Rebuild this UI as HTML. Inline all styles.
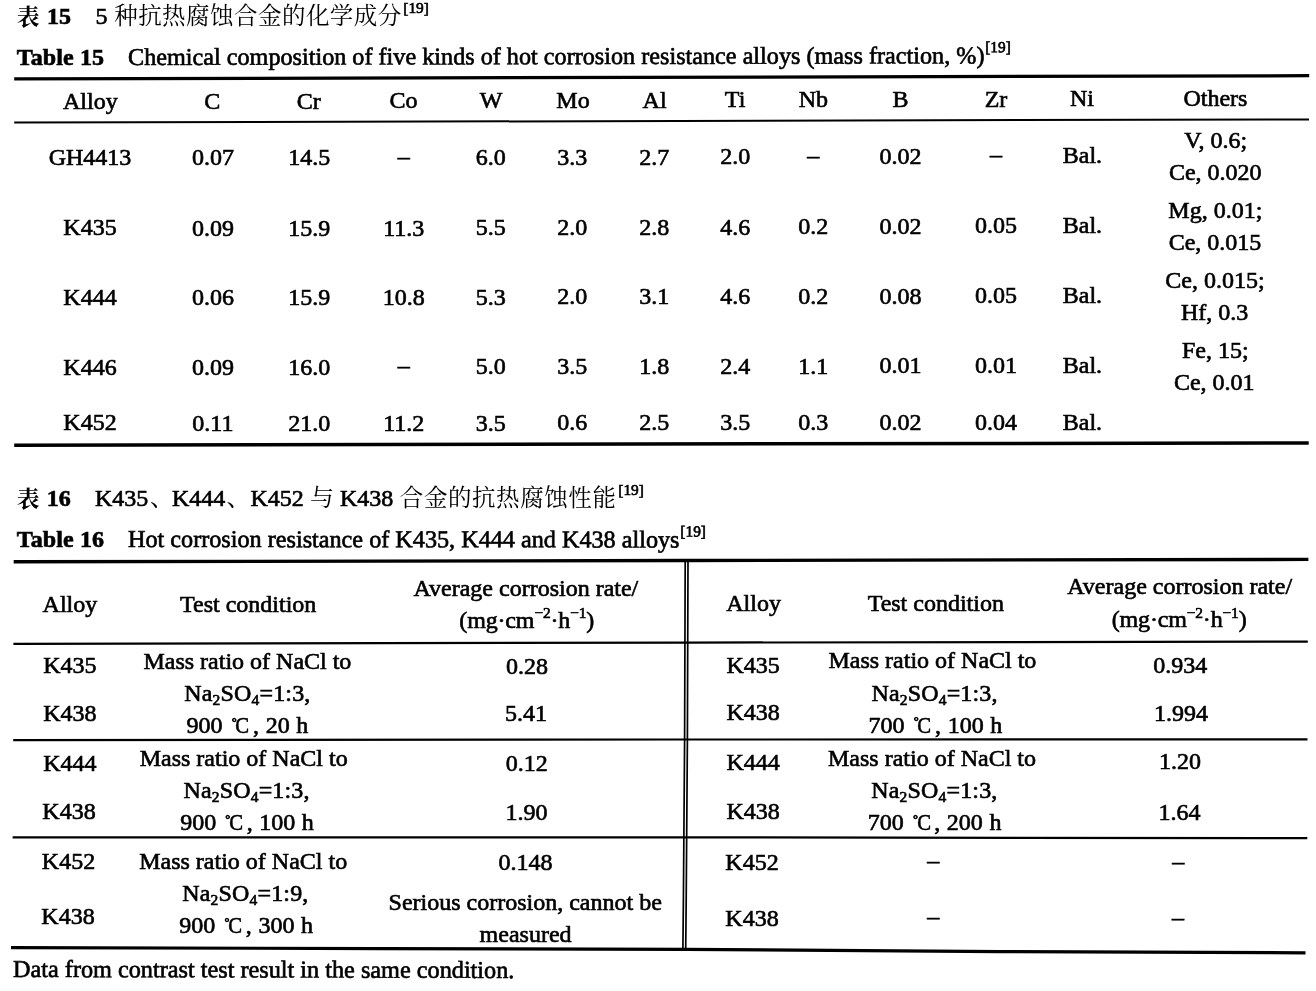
<!DOCTYPE html>
<html><head><meta charset="utf-8"><title>Tables 15-16</title><style>
html,body{margin:0;padding:0;background:#fff;}
body{width:1316px;height:991px;position:relative;overflow:hidden;font-family:"Liberation Serif",serif;color:#000;-webkit-text-stroke:0.65px #000;}
#pg{position:absolute;left:0;top:0;width:1316px;height:991px;will-change:transform;}
.t{position:absolute;white-space:nowrap;font-size:24px;line-height:24px;}
.c{transform:translateX(-50%);}
.b{font-weight:bold;}
.sup{font-size:15.4px;position:relative;top:-11.4px;margin-left:0.8px;}
.sub{font-size:15.5px;position:relative;top:4.2px;}
.deg{font-size:12.5px;position:relative;top:-7.2px;margin-left:2.6px;margin-right:-1.2px;}
.dc{display:inline-block;transform:scaleX(0.86);transform-origin:0 50%;margin-right:1.5px;}
.ws{word-spacing:0.6px;}
.na{letter-spacing:0.16px;}
.u{letter-spacing:-0.15px;}
.u .sup{margin-left:0;top:-9.3px;}
.b{letter-spacing:0.11px;}
svg{position:absolute;left:0;top:0;}
svg text{font-family:"Liberation Serif","Noto Serif CJK SC",serif;fill:#000;-webkit-text-stroke:0;}
</style></head>
<body>
<div id="pg">
<svg width="1316" height="991" viewBox="0 0 1316 991">
<text x="16.80" y="24.85" font-size="22.8" font-weight="bold">表</text>
<text x="114.20 138.16 162.12 186.08 210.04 234.00 257.96 281.92 305.88 329.84 353.80 377.76" y="24.10" font-size="23.5">种抗热腐蚀合金的化学成分</text>
<text x="16.80" y="507.30" font-size="22.8" font-weight="bold">表</text>
<text x="150.00" y="506.30" font-size="24">、</text>
<text x="226.50" y="506.30" font-size="24">、</text>
<text x="310.00" y="506.30" font-size="24">与</text>
<text x="399.80 423.88 447.96 472.04 496.12 520.20 544.28 568.36 592.44" y="506.30" font-size="23.5">合金的抗热腐蚀性能</text>
<polyline points="14.20,78.95 1309.20,75.70" fill="none" stroke="#000" stroke-width="3.3"/>
<polyline points="14.20,122.60 1309.00,119.40" fill="none" stroke="#000" stroke-width="2.0"/>
<polyline points="14.20,445.20 1308.70,442.90" fill="none" stroke="#000" stroke-width="3.5"/>
<polyline points="13.70,561.80 686.00,560.50 1308.40,559.40" fill="none" stroke="#000" stroke-width="3.4"/>
<polyline points="13.40,643.90 686.00,642.60 1307.80,641.60" fill="none" stroke="#000" stroke-width="2.2"/>
<polyline points="13.20,740.20 686.00,739.50 1307.50,739.40" fill="none" stroke="#000" stroke-width="2.2"/>
<polyline points="12.60,837.30 686.00,837.30 1307.30,838.20" fill="none" stroke="#000" stroke-width="2.3"/>
<polyline points="11.00,947.60 380.00,948.60 686.00,949.30 1000.00,951.60 1305.50,952.80" fill="none" stroke="#000" stroke-width="3.2"/>
<polyline points="685.20,560.50 684.60,740.00 683.40,900.00 682.90,949.30" fill="none" stroke="#000" stroke-width="1.7"/>
<polyline points="688.00,560.50 687.40,740.00 686.20,900.00 685.70,949.30" fill="none" stroke="#000" stroke-width="1.7"/>
</svg>
<div class="t b" style="left:46.90px;top:4.00px;">15</div>
<div class="t" style="left:95.50px;top:4.00px;">5</div>
<div class="t" style="left:402.50px;top:4.00px;"><span class="sup">[19]</span></div>
<div class="t b" style="left:16.80px;top:44.50px;">Table 15</div>
<div class="t" style="left:127.80px;top:44.60px;font-size:24.2px;transform-origin:0 20px;transform:rotate(-0.11deg);">Chemical composition of five kinds of hot corrosion resistance alloys (mass fraction, %)<span class="sup">[19]</span></div>
<div class="t b" style="left:46.70px;top:486.20px;">16</div>
<div class="t" style="left:95.00px;top:486.20px;">K435</div>
<div class="t" style="left:172.00px;top:486.20px;">K444</div>
<div class="t" style="left:250.50px;top:486.20px;">K452</div>
<div class="t" style="left:340.00px;top:486.20px;">K438</div>
<div class="t" style="left:617.50px;top:486.20px;"><span class="sup">[19]</span></div>
<div class="t b" style="left:16.80px;top:527.30px;">Table 16</div>
<div class="t" style="left:127.80px;top:527.30px;font-size:24.2px;transform-origin:0 20px;transform:rotate(0.05deg);">Hot corrosion resistance of K435, K444 and K438 alloys<span class="sup">[19]</span></div>
<div class="t c" style="left:90.30px;top:89.30px;">Alloy</div>
<div class="t c" style="left:212.30px;top:88.93px;">C</div>
<div class="t c" style="left:308.80px;top:88.64px;">Cr</div>
<div class="t c" style="left:403.60px;top:88.36px;">Co</div>
<div class="t c" style="left:491.20px;top:88.10px;">W</div>
<div class="t c" style="left:573.00px;top:87.85px;">Mo</div>
<div class="t c" style="left:654.60px;top:87.61px;">Al</div>
<div class="t c" style="left:735.10px;top:87.36px;">Ti</div>
<div class="t c" style="left:813.30px;top:87.13px;">Nb</div>
<div class="t c" style="left:900.40px;top:86.87px;">B</div>
<div class="t c" style="left:996.00px;top:86.58px;">Zr</div>
<div class="t c" style="left:1082.00px;top:86.32px;">Ni</div>
<div class="t c" style="left:1215.40px;top:85.92px;">Others</div>
<div class="t c" style="left:90.00px;top:145.20px;">GH4413</div>
<div class="t c" style="left:212.90px;top:145.30px;">0.07</div>
<div class="t c" style="left:309.20px;top:145.34px;">14.5</div>
<div class="t c" style="left:403.80px;top:143.81px;">–</div>
<div class="t c" style="left:490.70px;top:145.21px;">6.0</div>
<div class="t c" style="left:572.30px;top:145.03px;">3.3</div>
<div class="t c" style="left:654.20px;top:144.79px;">2.7</div>
<div class="t c" style="left:735.20px;top:144.48px;">2.0</div>
<div class="t c" style="left:813.30px;top:142.63px;">–</div>
<div class="t c" style="left:900.60px;top:143.69px;">0.02</div>
<div class="t c" style="left:996.00px;top:141.71px;">–</div>
<div class="t c" style="left:1082.40px;top:143.02px;">Bal.</div>
<div class="t c" style="left:90.00px;top:215.40px;">K435</div>
<div class="t c" style="left:212.90px;top:215.50px;">0.09</div>
<div class="t c" style="left:309.20px;top:215.54px;">15.9</div>
<div class="t c" style="left:403.80px;top:215.51px;">11.3</div>
<div class="t c" style="left:490.70px;top:215.41px;">5.5</div>
<div class="t c" style="left:572.30px;top:215.23px;">2.0</div>
<div class="t c" style="left:654.20px;top:214.99px;">2.8</div>
<div class="t c" style="left:735.20px;top:214.68px;">4.6</div>
<div class="t c" style="left:813.30px;top:214.33px;">0.2</div>
<div class="t c" style="left:900.60px;top:213.89px;">0.02</div>
<div class="t c" style="left:996.00px;top:213.41px;">0.05</div>
<div class="t c" style="left:1082.40px;top:213.22px;">Bal.</div>
<div class="t c" style="left:90.00px;top:284.90px;">K444</div>
<div class="t c" style="left:212.90px;top:284.83px;">0.06</div>
<div class="t c" style="left:309.20px;top:284.76px;">15.9</div>
<div class="t c" style="left:403.80px;top:284.66px;">10.8</div>
<div class="t c" style="left:490.70px;top:284.55px;">5.3</div>
<div class="t c" style="left:572.30px;top:284.43px;">2.0</div>
<div class="t c" style="left:654.20px;top:284.27px;">3.1</div>
<div class="t c" style="left:735.20px;top:284.10px;">4.6</div>
<div class="t c" style="left:813.30px;top:283.92px;">0.2</div>
<div class="t c" style="left:900.60px;top:283.70px;">0.08</div>
<div class="t c" style="left:996.00px;top:283.45px;">0.05</div>
<div class="t c" style="left:1082.40px;top:283.31px;">Bal.</div>
<div class="t c" style="left:90.00px;top:354.60px;">K446</div>
<div class="t c" style="left:212.90px;top:354.57px;">0.09</div>
<div class="t c" style="left:309.20px;top:354.53px;">16.0</div>
<div class="t c" style="left:403.80px;top:352.95px;">–</div>
<div class="t c" style="left:490.70px;top:354.35px;">5.0</div>
<div class="t c" style="left:572.30px;top:354.23px;">3.5</div>
<div class="t c" style="left:654.20px;top:354.07px;">1.8</div>
<div class="t c" style="left:735.20px;top:353.88px;">2.4</div>
<div class="t c" style="left:813.30px;top:353.67px;">1.1</div>
<div class="t c" style="left:900.60px;top:353.43px;">0.01</div>
<div class="t c" style="left:996.00px;top:353.15px;">0.01</div>
<div class="t c" style="left:1082.40px;top:353.01px;">Bal.</div>
<div class="t c" style="left:90.00px;top:410.40px;">K452</div>
<div class="t c" style="left:212.90px;top:410.50px;">0.11</div>
<div class="t c" style="left:309.20px;top:410.55px;">21.0</div>
<div class="t c" style="left:403.80px;top:410.56px;">11.2</div>
<div class="t c" style="left:490.70px;top:410.53px;">3.5</div>
<div class="t c" style="left:572.30px;top:410.46px;">0.6</div>
<div class="t c" style="left:654.20px;top:410.35px;">2.5</div>
<div class="t c" style="left:735.20px;top:410.21px;">3.5</div>
<div class="t c" style="left:813.30px;top:410.04px;">0.3</div>
<div class="t c" style="left:900.60px;top:409.82px;">0.02</div>
<div class="t c" style="left:996.00px;top:409.58px;">0.04</div>
<div class="t c" style="left:1082.40px;top:409.51px;">Bal.</div>
<div class="t c" style="left:1215.70px;top:128.20px;">V, 0.6;</div>
<div class="t c" style="left:1215.30px;top:160.40px;">Ce, 0.020</div>
<div class="t c" style="left:1215.30px;top:198.10px;">Mg, 0.01;</div>
<div class="t c" style="left:1215.00px;top:229.60px;">Ce, 0.015</div>
<div class="t c" style="left:1215.00px;top:268.20px;">Ce, 0.015;</div>
<div class="t c" style="left:1214.60px;top:299.50px;">Hf, 0.3</div>
<div class="t c" style="left:1215.30px;top:338.40px;">Fe, 15;</div>
<div class="t c" style="left:1214.30px;top:369.90px;">Ce, 0.01</div>
<div class="t c" style="left:69.90px;top:591.70px;">Alloy</div>
<div class="t c" style="left:248.20px;top:591.70px;">Test condition</div>
<div class="t c" style="left:525.90px;top:575.70px;">Average corrosion rate/</div>
<div class="t c" style="left:526.70px;top:607.50px;"><span class="u">(mg·cm<span class="sup">−2</span>·h<span class="sup">−1</span>)</span></div>
<div class="t c" style="left:753.60px;top:591.10px;">Alloy</div>
<div class="t c" style="left:935.80px;top:591.10px;">Test condition</div>
<div class="t c" style="left:1179.70px;top:574.40px;">Average corrosion rate/</div>
<div class="t c" style="left:1179.10px;top:606.80px;"><span class="u">(mg·cm<span class="sup">−2</span>·h<span class="sup">−1</span>)</span></div>
<div class="t c" style="left:69.90px;top:653.10px;">K435</div>
<div class="t c" style="left:69.90px;top:701.10px;">K438</div>
<div class="t c" style="left:247.40px;top:648.60px;">Mass ratio of NaCl to</div>
<div class="t c" style="left:247.40px;top:681.00px;"><span class="na">Na<span class="sub">2</span>SO<span class="sub">4</span>=1:3,</span></div>
<div class="t c" style="left:247.40px;top:713.40px;"><span class="ws">900 <span class="deg">°</span><span class="dc">C</span>, 20 h</span></div>
<div class="t c" style="left:526.90px;top:653.90px;">0.28</div>
<div class="t c" style="left:526.00px;top:700.60px;">5.41</div>
<div class="t c" style="left:753.20px;top:652.60px;">K435</div>
<div class="t c" style="left:753.20px;top:700.40px;">K438</div>
<div class="t c" style="left:932.40px;top:648.30px;">Mass ratio of NaCl to</div>
<div class="t c" style="left:934.60px;top:680.90px;"><span class="na">Na<span class="sub">2</span>SO<span class="sub">4</span>=1:3,</span></div>
<div class="t c" style="left:935.40px;top:712.50px;"><span class="ws">700 <span class="deg">°</span><span class="dc">C</span>, 100 h</span></div>
<div class="t c" style="left:1180.20px;top:652.50px;">0.934</div>
<div class="t c" style="left:1181.00px;top:700.60px;">1.994</div>
<div class="t c" style="left:69.90px;top:750.60px;">K444</div>
<div class="t c" style="left:69.00px;top:798.80px;">K438</div>
<div class="t c" style="left:243.70px;top:746.00px;">Mass ratio of NaCl to</div>
<div class="t c" style="left:246.60px;top:777.50px;"><span class="na">Na<span class="sub">2</span>SO<span class="sub">4</span>=1:3,</span></div>
<div class="t c" style="left:247.00px;top:810.20px;"><span class="ws">900 <span class="deg">°</span><span class="dc">C</span>, 100 h</span></div>
<div class="t c" style="left:526.70px;top:750.70px;">0.12</div>
<div class="t c" style="left:526.40px;top:799.50px;">1.90</div>
<div class="t c" style="left:753.20px;top:750.00px;">K444</div>
<div class="t c" style="left:753.20px;top:799.10px;">K438</div>
<div class="t c" style="left:932.00px;top:745.60px;">Mass ratio of NaCl to</div>
<div class="t c" style="left:934.40px;top:777.60px;"><span class="na">Na<span class="sub">2</span>SO<span class="sub">4</span>=1:3,</span></div>
<div class="t c" style="left:934.60px;top:810.20px;"><span class="ws">700 <span class="deg">°</span><span class="dc">C</span>, 200 h</span></div>
<div class="t c" style="left:1179.90px;top:749.30px;">1.20</div>
<div class="t c" style="left:1179.40px;top:799.50px;">1.64</div>
<div class="t c" style="left:68.50px;top:849.10px;">K452</div>
<div class="t c" style="left:68.00px;top:903.80px;">K438</div>
<div class="t c" style="left:243.20px;top:848.60px;">Mass ratio of NaCl to</div>
<div class="t c" style="left:245.40px;top:881.00px;"><span class="na">Na<span class="sub">2</span>SO<span class="sub">4</span>=1:9,</span></div>
<div class="t c" style="left:246.20px;top:913.10px;"><span class="ws">900 <span class="deg">°</span><span class="dc">C</span>, 300 h</span></div>
<div class="t c" style="left:525.60px;top:849.60px;">0.148</div>
<div class="t c" style="left:525.20px;top:889.70px;">Serious corrosion, cannot be</div>
<div class="t c" style="left:525.60px;top:921.50px;">measured</div>
<div class="t c" style="left:752.00px;top:850.30px;">K452</div>
<div class="t c" style="left:752.00px;top:905.50px;">K438</div>
<div class="t c" style="left:933.20px;top:848.40px;">–</div>
<div class="t c" style="left:1178.20px;top:849.10px;">–</div>
<div class="t c" style="left:933.20px;top:903.60px;">–</div>
<div class="t c" style="left:1178.00px;top:905.30px;">–</div>
<div class="t" style="left:13.00px;top:957.40px;font-size:24.24px;transform-origin:0 20px;transform:rotate(0.11deg);">Data from contrast test result in the same condition.</div>
</div>
</body></html>
